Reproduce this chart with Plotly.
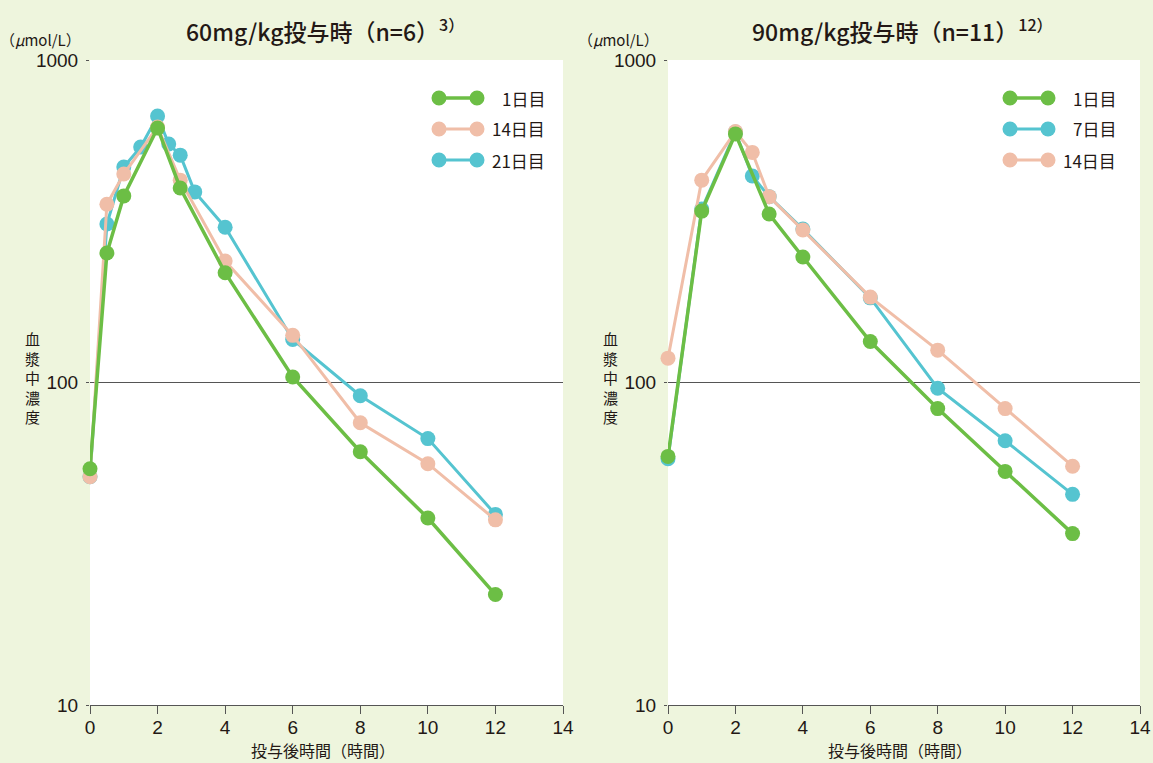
import plotly.graph_objects as go

W, H = 1153, 763

# ---------------- data ----------------
# 60 mg/kg (n=6)
t60_d1 = [0, 0.5, 1, 2, 2.67, 4, 6, 8, 10, 12]
c60_d1 = [54, 252, 379, 615, 401, 219, 104, 61, 38, 22]
t60_d14 = [0, 0.5, 1, 2, 2.67, 4, 6, 8, 10, 12]
c60_d14 = [51, 357, 443, 620, 424, 238, 140, 75, 56, 37.5]
t60_d21 = [0, 0.5, 1, 1.5, 2, 2.33, 2.67, 3.1, 4, 6, 8, 10, 12]
c60_d21 = [51, 310, 466, 537, 670, 549, 507, 390, 303, 136, 91, 67, 39]

# 90 mg/kg (n=11)
t90_d1 = [0, 1, 2, 3, 4, 6, 8, 10, 12]
c90_d1 = [59, 340, 590, 333, 245, 134, 83, 53, 34]
t90_d7 = [0, 1, 2, 2.5, 3, 4, 6, 8, 10, 12]
c90_d7 = [58, 345, 598, 437, 377, 299, 183, 96, 66, 45]
t90_d14 = [0, 1, 2, 2.5, 3, 4, 6, 8, 10, 12]
c90_d14 = [119, 424, 600, 517, 377, 297, 184, 126, 83, 55]

xticks = [0, 2, 4, 6, 8, 10, 12, 14]
yticks = [10, 100, 1000]
ytick_labels = ["10", "100", "1000"]

titles = ["60mg/kg投与時（n=6）<sup>3）</sup>", "90mg/kg投与時（n=11）<sup>12）</sup>"]
legend_left = ["1日目", "14日目", "21日目"]
legend_right = ["1日目", "7日目", "14日目"]

# ---------------- style ----------------
GREEN = "#6cbe45"
PINK = "#f0bea8"
CYAN = "#55c4d0"
BG = "#eef5dd"
FONT = "Noto Sans CJK JP"
NUMFONT = "Liberation Sans"
TXT = "#231815"

def px(x):
    return x / W

def py(y):
    return 1 - y / H

# plot areas in pixels
L1, R1 = 90, 563
L2, R2 = 668, 1140
TOP, BOT = 60, 705

fig = go.Figure()

def add(t, c, color, width, xa, ya, name):
    fig.add_trace(go.Scatter(
        x=t, y=c, mode="lines+markers", name=name, showlegend=False,
        line=dict(color=color, width=width),
        marker=dict(color=color, size=15, line=dict(width=0)),
        xaxis=xa, yaxis=ya, cliponaxis=False,
    ))

# draw order: cyan, pink, green
add(t60_d21, c60_d21, CYAN, 3, "x", "y", "21日目")
add(t60_d14, c60_d14, PINK, 3, "x", "y", "14日目")
add(t60_d1, c60_d1, GREEN, 3.5, "x", "y", "1日目")
add(t90_d7, c90_d7, CYAN, 3, "x2", "y2", "7日目")
add(t90_d14, c90_d14, PINK, 3, "x2", "y2", "14日目")
add(t90_d1, c90_d1, GREEN, 3.5, "x2", "y2", "1日目")

xcommon = dict(range=[0, 14], tickvals=xticks, ticks="outside", ticklen=8,
               tickcolor="#555", tickwidth=1.2, showline=True, linecolor="#555",
               linewidth=1.2, showgrid=False, zeroline=False, automargin=False,
               ticklabelstandoff=-3,
               tickfont=dict(family=NUMFONT, size=19, color=TXT))
ycommon = dict(type="log", range=[1, 3], tickvals=yticks, ticktext=ytick_labels,
               showgrid=True, gridcolor="#555", gridwidth=1.2, ticks="outside",
               ticklen=3, tickcolor="#555", showline=False, zeroline=False,
               automargin=False, ticklabelstandoff=4,
               tickfont=dict(family=NUMFONT, size=19, color=TXT))

fig.update_layout(
    width=W, height=H,
    margin=dict(l=0, r=0, t=0, b=0, autoexpand=False),
    paper_bgcolor=BG, plot_bgcolor="white",
    xaxis=dict(domain=[px(L1), px(R1)], anchor="y", **xcommon),
    yaxis=dict(domain=[py(BOT), py(TOP)], anchor="x", **ycommon),
    xaxis2=dict(domain=[px(L2), px(R2)], anchor="y2", **xcommon),
    yaxis2=dict(domain=[py(BOT), py(TOP)], anchor="x2", **ycommon),
    showlegend=False,
)

ann = []
shapes = []
ytitle = "<br>".join(list("血漿中濃度"))
for i, (L, R) in enumerate([(L1, R1), (L2, R2)]):
    cx = (L + R) / 2
    ann.append(dict(text=titles[i], x=px(cx - 2), y=py(30), xref="paper", yref="paper",
                    showarrow=False, xanchor="center", yanchor="middle",
                    font=dict(family=FONT, size=23, color=TXT, weight=500)))
    ann.append(dict(text="（<i>μ</i>mol/L）", x=px(L - 7), y=py(39), xref="paper", yref="paper",
                    showarrow=False, xanchor="right", yanchor="middle",
                    font=dict(family=FONT, size=15, color=TXT)))
    ann.append(dict(text="投与後時間（時間）", x=px(cx - 4), y=py(750), xref="paper", yref="paper",
                    showarrow=False, xanchor="center", yanchor="middle",
                    font=dict(family=FONT, size=16, color=TXT)))
    ann.append(dict(text=ytitle, x=px(L - 58), y=py(377), xref="paper", yref="paper",
                    showarrow=False, xanchor="center", yanchor="middle",
                    font=dict(family=FONT, size=15, color=TXT)))

# custom legends (two markers joined by a line)
def legend(x0, x1, xtext, labels, colors, widths):
    for k, (lab, col, w) in enumerate(zip(labels, colors, widths)):
        y = 98 + 31 * k
        shapes.append(dict(type="line", xref="paper", yref="paper",
                           x0=px(x0), x1=px(x1), y0=py(y), y1=py(y),
                           line=dict(color=col, width=w)))
        for xm in (x0, x1):
            shapes.append(dict(type="circle", xref="paper", yref="paper",
                               x0=px(xm - 7.5), x1=px(xm + 7.5), y0=py(y + 7.5), y1=py(y - 7.5),
                               fillcolor=col, line=dict(width=0)))
        ann.append(dict(text=lab, x=px(xtext), y=py(y), xref="paper", yref="paper",
                        showarrow=False, xanchor="right", yanchor="middle",
                        font=dict(family=FONT, size=17, color=TXT)))

legend(439, 477, 547, legend_left, [GREEN, PINK, CYAN], [3.5, 3, 3])
legend(1010, 1048, 1118, legend_right, [GREEN, CYAN, PINK], [3.5, 3, 3])

fig.update_layout(annotations=ann, shapes=shapes)
fig.write_html("out.html", config={"displayModeBar": False},
               post_script="document.body.style.margin='0';document.body.style.overflow='hidden';")
